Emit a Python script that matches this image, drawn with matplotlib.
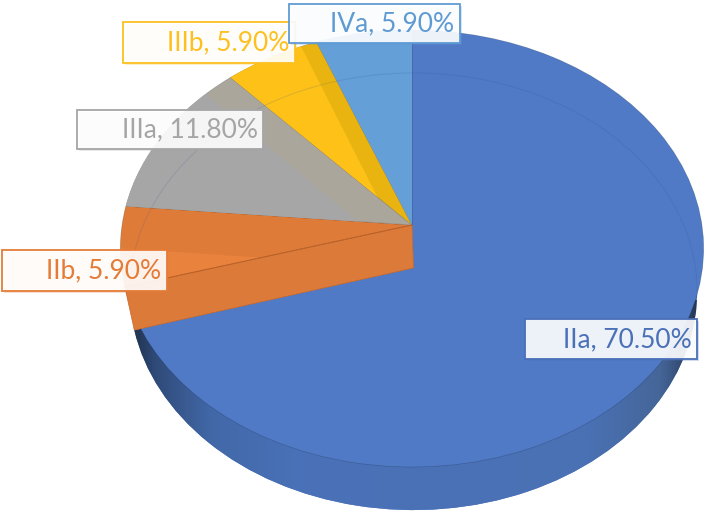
import matplotlib
matplotlib.use("Agg")
import matplotlib.pyplot as plt
import numpy as np
from matplotlib.transforms import Transform
from matplotlib.patches import Circle, Rectangle, Polygon
from matplotlib.colors import LinearSegmentedColormap

categories = ["IIa", "IIb", "IIIa", "IIIb", "IVa"]
values = [70.5, 5.9, 11.8, 5.9, 5.9]
value_labels = ["70.50%", "5.90%", "11.80%", "5.90%", "5.90%"]

top_colors = ["#507ac6", "#df7b38", "#aba69c", "#e9b40f", "#649fd7"]
lit_colors = ["#507ac6", "#e9823d", "#a6a6a6", "#fdc118", "#649fd7"]
text_colors = ["#4a70b8", "#e47c38", "#a5a5a5", "#fdc020", "#5f9bd3"]
side_stops = [(0, "#1f3049"), (0.04, "#2f4a78"), (0.14, "#4268a8"), (0.3, "#4a72b8"),
              (0.8, "#4a71b4"), (0.93, "#456699"), (1, "#22344f")]

boxes = {"IIa": (525, 319, 697, 359), "IIb": (2, 250, 167, 291), "IIIa": (77, 110, 263, 149),
         "IIIb": (123, 22, 295, 63), "IVa": (289, 4, 460, 43)}


class Persp(Transform):
    input_dims = output_dims = 2
    is_separable = False
    has_inverse = False

    def __init__(self, cx, cy, a, b, k):
        super().__init__()
        self.p = (cx, cy, a, b, k)

    def transform_non_affine(self, v):
        cx, cy, a, b, k = self.p
        v = np.asarray(v, float)
        d = 1 + k * v[:, 1]
        return np.column_stack([cx + a * v[:, 0] / d, cy - b * v[:, 1] / d])


fig = plt.figure(figsize=(7.09, 5.13), dpi=100)
ax = fig.add_axes([0, 0, 1, 1])
K, B = 0.1076, 216
U = Persp(412, 225, 290, B, K)
L = Persp(413.5, 268, 282, B, K)
tU = U + ax.transData
tL = L + ax.transData
pie_kw = dict(startangle=90, counterclock=False, labeldistance=None, normalize=True)

# lower disc (front wall of the main slice)
low, _ = ax.pie(values, colors=top_colors, wedgeprops=dict(transform=tL, linewidth=0, zorder=1), **pie_kw)
for w in low[1:]:
    w.set_visible(False)
cmap = LinearSegmentedColormap.from_list("side", side_stops)
im = ax.imshow(np.linspace(0, 1, 400)[None, :], extent=(130, 702, 513, 300), cmap=cmap, aspect="auto", zorder=1.1)
im.set_clip_path(low[0])

# upper disc
up, _ = ax.pie(values, colors=top_colors,
               wedgeprops=dict(transform=tU, linewidth=0.5, edgecolor="#00000030", zorder=2), **pie_kw)
# lit floor of the four small slices
lit, _ = ax.pie(values, colors=lit_colors, radius=1.6,
                wedgeprops=dict(transform=tL, linewidth=0, zorder=2.1), **pie_kw)
lit[0].set_visible(False)
for w, u in zip(lit[1:], up[1:]):
    w.set_clip_on(True)
    w.set_clip_path(u)

# inner rim
clip = Circle((0, 0), 1, transform=tU, fill=False, linewidth=0)
ax.add_patch(clip)
rim = Circle((0, 0), 1, transform=tL, fill=False, edgecolor="#2f4f8a", alpha=0.15, linewidth=0.8, zorder=2.2)
ax.add_patch(rim)
rim.set_clip_path(clip)

# vertical face of the IIb slice
th = np.deg2rad(90 - (values[0] * 3.6))
edge = np.array([[0, 0], [np.cos(th), np.sin(th)]])
pu = U.transform_non_affine(edge)
pl = L.transform_non_affine(edge)
ax.add_patch(Polygon([pu[0], pl[0], pl[1], pu[1]], closed=True, facecolor="#dc7a39", edgecolor="#c8682c",
                     linewidth=0.5, zorder=2.5))
ax.plot([pu[0][0], pu[1][0]], [pu[0][1], pu[1][1]], color="#b9622a", lw=0.7, zorder=2.6)

# labels
for i, (c, v) in enumerate(zip(categories, value_labels)):
    x0, y0, x1, y1 = boxes[c]
    ax.add_patch(Rectangle((x0 + 1.5, y0 + 2), x1 - x0, y1 - y0, facecolor=text_colors[i], alpha=0.25,
                           linewidth=0, zorder=3 + i * 0.1))
    ax.add_patch(Rectangle((x0, y0), x1 - x0, y1 - y0, facecolor="white", alpha=0.9, linewidth=0,
                           zorder=3.01 + i * 0.1))
    ax.add_patch(Rectangle((x0, y0), x1 - x0, y1 - y0, fill=False, edgecolor=text_colors[i], linewidth=1.3,
                           zorder=3.02 + i * 0.1))
    ax.text(x1 - 5.5, (y0 + y1) / 2 + 0.5, f"{c}, {v}", color=text_colors[i], fontsize=19, family="Lato",
            ha="right", va="center", zorder=3.03 + i * 0.1)

ax.set_aspect("auto")
ax.set_xlim(0, 709)
ax.set_ylim(513, 0)
ax.axis("off")
fig.savefig("out.png", dpi=100)
